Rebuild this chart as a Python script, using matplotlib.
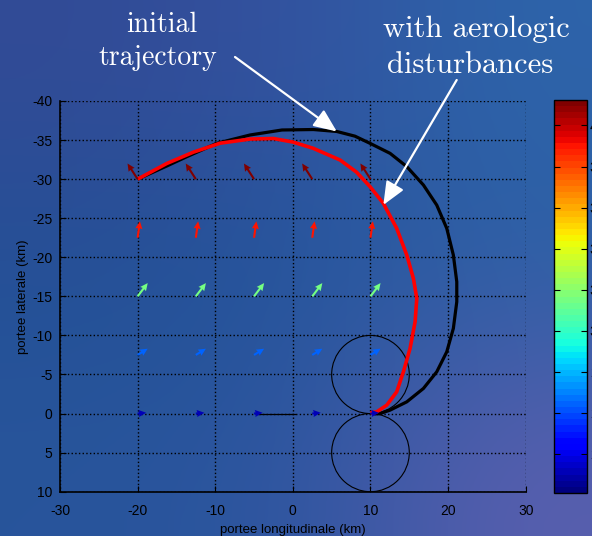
import matplotlib
matplotlib.use("Agg")
import matplotlib.pyplot as plt
import numpy as np
from matplotlib.patches import Circle

plt.rcParams['axes.unicode_minus'] = False
plt.rcParams['font.family'] = ['Liberation Sans', 'DejaVu Sans']

# trajectories (km): x = portee longitudinale, y = portee laterale
initial_x = [-20.0, -16.25, -13.67, -9.81, -5.52, -1.4, 2.64, 5.66, 8.0, 9.95, 12.53, 14.68,
             16.82, 18.54, 19.83, 20.68, 21.12, 21.12, 20.68, 19.83, 18.54, 16.82, 14.68,
             12.53, 11.24, 10.5]
initial_y = [-30.0, -31.68, -32.87, -34.58, -35.65, -36.29, -36.35, -36.1, -35.5, -34.58, -33.3, -31.6,
             -29.25, -26.68, -23.7, -20.28, -16.86, -14.3, -10.9, -7.9, -5.34, -3.21, -1.5,
             -0.44, 0.0, 0.05]

disturbed_x = [-20.0, -16.25, -12.82, -9.38, -5.52, -2.5, 0.0, 2.64, 6.08, 8.2, 9.95, 11.66,
               13.38, 14.68, 15.53, 15.97, 15.75, 15.1, 14.24, 13.38, 12.1, 10.81, 10.0]
disturbed_y = [-30.0, -32.0, -33.45, -34.6, -35.13, -35.2, -34.75, -33.94, -32.45, -30.9, -29.03, -26.9,
               -23.7, -20.28, -17.3, -14.74, -11.74, -8.33, -5.34, -2.78, -1.08, -0.22, -0.1]

# short trace along y = 0
trace_x = [-4.5, 0.3]
trace_y = [0.0, 0.0]

# turning circles
circle_centers = [(10, -5), (10, 5)]
circle_radius = 5

# wind field (quiver)
wind_x = [-20, -12.5, -5, 2.5, 10]
wind_rows = [-30, -22.5, -15, -7.5, 0]
wind_u = [-1.3, 0.3, 1.3, 1.3, 1.1]
wind_v = [-2.0, -2.1, -1.7, -0.8, -0.1]
wind_speed = [41.0, 39.0, 31.5, 26.5, 23.0]

cbar_ticks = [24, 26, 28, 30, 32, 34, 36, 38, 40]
cbar_min, cbar_max = 22.1, 41.24

W, H = 592, 536
fig = plt.figure(figsize=(W / 100, H / 100), dpi=100)

# background gradient
bg = np.array([
    [[50, 75, 150], [52, 82, 160], [45, 100, 170]],
    [[35, 80, 150], [35, 85, 155], [45, 95, 165]],
    [[40, 85, 155], [45, 85, 160], [90, 95, 175]],
]) / 255.0
bax = fig.add_axes([0, 0, 1, 1], zorder=-10)
bax.imshow(bg, aspect='auto', interpolation='bicubic', extent=[0, 1, 0, 1])
bax.set_axis_off()

ax = fig.add_axes([60 / W, 1 - 491.7 / H, 465.7 / W, 390.7 / H])
ax.set_facecolor('none')

ax.plot(trace_x, trace_y, color='black', lw=0.9)
for c in circle_centers:
    ax.add_patch(Circle(c, circle_radius, fill=False, ec='black', lw=0.8))

ax.plot(initial_x, initial_y, color='black', lw=2.3, solid_capstyle='butt')
ax.plot(disturbed_x, disturbed_y, color='red', lw=2.6, solid_capstyle='butt')

gx, gy = np.meshgrid(wind_x, wind_rows)
gu = np.repeat(np.array(wind_u)[:, None], len(wind_x), axis=1)
gv = np.repeat(np.array(wind_v)[:, None], len(wind_x), axis=1)
gs = np.repeat(np.array(wind_speed)[:, None], len(wind_x), axis=1)
cmap = plt.get_cmap('jet', 64)
q = ax.quiver(gx, gy, gu, gv, gs, cmap=cmap, clim=(cbar_min, cbar_max),
              angles='xy', scale_units='xy', scale=1, width=0.0045,
              headwidth=3.4, headlength=3.6, headaxislength=3.3, zorder=3)

ax.set_xlim(-30, 30)
ax.set_ylim(10, -40)
ax.set_xticks(np.arange(-30, 31, 10))
ax.set_yticks(np.arange(-40, 11, 5))
ax.grid(True, color='black', linestyle=':', lw=1.0)
for s in ['top', 'right']:
    ax.spines[s].set_visible(False)
for s in ['left', 'bottom']:
    ax.spines[s].set_linewidth(1.2)
ax.tick_params(direction='in', length=4, labelsize=10, colors='black')
ax.tick_params(axis='x', pad=8.5)
ax.tick_params(axis='y', pad=5.5)
ax.set_xlabel('portee longitudinale (km)', fontsize=9.5, labelpad=5)
ax.set_ylabel('portee laterale (km)', fontsize=9.5, labelpad=2.5)

cax = fig.add_axes([554 / W, 1 - 493 / H, 33 / W, 393 / H])
cb = fig.colorbar(q, cax=cax)
cb.set_ticks(cbar_ticks)
cb.outline.set_linewidth(1.0)
cax.tick_params(direction='in', left=True, right=True, length=4, labelsize=10, pad=2)

# annotations
serif = 'cmr10'
fig.text(162 / W, 1 - 31.7 / H, 'initial', ha='center', va='baseline',
         color='white', fontsize=20, family=serif)
fig.text(157.5 / W, 1 - 65 / H, 'trajectory', ha='center', va='baseline',
         color='white', fontsize=20, family=serif)
fig.text(476 / W, 1 - 36.7 / H, 'with aerologic', ha='center', va='baseline',
         color='white', fontsize=22, family=serif)
fig.text(470 / W, 1 - 73 / H, 'disturbances', ha='center', va='baseline',
         color='white', fontsize=22, family=serif)

arrow = dict(arrowstyle='-|>,head_length=0.7,head_width=0.3', color='white',
             lw=1.6, mutation_scale=20, shrinkA=0, shrinkB=0)
ax.annotate('', xy=(5.66, -36.1), xycoords='data',
            xytext=(235 / W, 1 - 57 / H), textcoords='figure fraction',
            arrowprops=arrow, annotation_clip=False)
ax.annotate('', xy=(11.66, -26.7), xycoords='data',
            xytext=(456.7 / W, 1 - 80 / H), textcoords='figure fraction',
            arrowprops=arrow, annotation_clip=False)

fig.savefig('out.png', dpi=100)
